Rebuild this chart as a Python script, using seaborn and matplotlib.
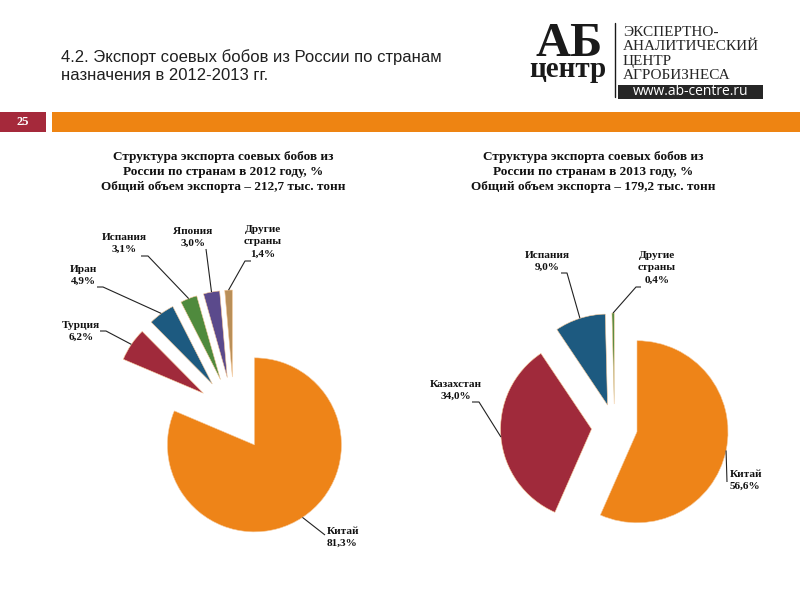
import matplotlib
matplotlib.use("Agg")
import matplotlib.pyplot as plt
from matplotlib.patches import Rectangle
import seaborn as sns
import numpy as np

# ---------------- data ----------------
countries_2012 = ["Китай", "Турция", "Иран", "Испания", "Япония", "Другие\nстраны"]
shares_2012 = [81.3, 6.2, 4.9, 3.1, 3.0, 1.4]
countries_2013 = ["Китай", "Казахстан", "Испания", "Другие\nстраны"]
shares_2013 = [56.6, 34.0, 9.0, 0.4]
title_2012 = ("Структура экспорта соевых бобов из\nРоссии по странам в 2012 году, %\n"
              "Общий объем экспорта – 212,7 тыс. тонн")
title_2013 = ("Структура экспорта соевых бобов из\nРоссии по странам в 2013 году, %\n"
              "Общий объем экспорта – 179,2 тыс. тонн")
slide_title = ["4.2. Экспорт соевых бобов из России по странам", "назначения в 2012-2013 гг."]
slide_number = "25"
logo_lines = ["ЭКСПЕРТНО-", "АНАЛИТИЧЕСКИЙ", "ЦЕНТР", "АГРОБИЗНЕСА"]
logo_url = "www.ab-centre.ru"

# ---------------- style ----------------
sns.set_theme(style="white")
plt.rcParams["font.family"] = ["Liberation Serif", "DejaVu Serif"]

palette = sns.color_palette(["#EE8418", "#A02A3B", "#1D5A80", "#4F8A3D", "#5B4A8C", "#B98F58"])
colors_2012 = palette[:6]
colors_2013 = palette[:4]

fig = plt.figure(figsize=(8, 6), dpi=100)
ax = fig.add_axes([0, 0, 1, 1])


def Y(y):
    return 600 - y


def fmt(v):
    return f"{v:.1f}".replace(".", ",") + "%"


def draw_pie(shares, colors, center, radius, expl):
    wedges, _ = ax.pie(shares, colors=colors, startangle=90, counterclock=False,
                       radius=radius, center=(center[0], Y(center[1])),
                       explode=[expl] * len(shares),
                       wedgeprops=dict(edgecolor="#f6c99a", linewidth=0.4))
    anchors = []
    for w in wedges:
        mid = np.deg2rad((w.theta1 + w.theta2) / 2)
        cx, cy = w.center
        anchors.append((cx + w.r * np.cos(mid), cy + w.r * np.sin(mid)))
    return anchors


anch12 = draw_pie(shares_2012, colors_2012, (234, 414), 87, 37)
anch13 = draw_pie(shares_2013, colors_2013, (614.5, 427), 91, 23)

# label layout: (text x, text top y, ha, leader points near the text)
layout_2012 = [
    (327, 527, "left", [(325, 535)]),
    (81, 321, "center", [(100, 331), (106, 331)]),
    (83, 265, "center", [(97, 287), (103, 287)]),
    (124, 233, "center", [(141, 256), (148, 256)]),
    (193, 227, "center", [(206, 249)]),
    (263, 225, "center", [(251, 261), (245, 261)]),
]
layout_2013 = [
    (730, 470, "left", [(727, 482)]),
    (456, 380, "center", [(472, 402), (479, 402)]),
    (547, 251, "center", [(561, 273), (567, 273)]),
    (657, 251, "center", [(641, 287), (636, 287)]),
]


def draw_labels(names, shares, anchors, layout):
    for name, v, a, (tx, ty, ha, pts) in zip(names, shares, anchors, layout):
        ax.text(tx, Y(ty), f"{name}\n{fmt(v)}", ha=ha, va="top", fontsize=8.1,
                fontweight="bold", color="#111111", linespacing=1.45)
        xs = [p[0] for p in pts] + [a[0]]
        ys = [Y(p[1]) for p in pts] + [a[1]]
        ax.plot(xs, ys, color="#222222", lw=0.8, solid_capstyle="butt")


draw_labels(countries_2012, shares_2012, anch12, layout_2012)
draw_labels(countries_2013, shares_2013, anch13, layout_2013)

# chart titles
ax.text(223, Y(151), title_2012, ha="center", va="top", fontsize=9.5,
        fontweight="bold", color="#111111", linespacing=1.33)
ax.text(593, Y(151), title_2013, ha="center", va="top", fontsize=9.5,
        fontweight="bold", color="#111111", linespacing=1.33)

# slide header
ax.text(61, Y(62), slide_title[0], ha="left", va="baseline", fontsize=12.0,
        family=["Liberation Sans", "DejaVu Sans"], color="#1f1f1f")
ax.text(61, Y(79.5), slide_title[1], ha="left", va="baseline", fontsize=12.0,
        family=["Liberation Sans", "DejaVu Sans"], color="#1f1f1f")

# bar with slide number
ax.add_patch(Rectangle((52, Y(132)), 748, 20, color="#EE8412", lw=0))
ax.add_patch(Rectangle((0, Y(132)), 46, 20, color="#A5293B", lw=0))
ax.text(23, Y(122), slide_number, ha="center", va="center", fontsize=9,
        color="white", fontweight="bold")

# logo
ax.text(569, Y(56), "АБ", ha="center", va="baseline", fontsize=35,
        fontweight="bold", color="#1a1a1a")
ax.text(568, Y(77), "центр", ha="center", va="baseline", fontsize=21,
        fontweight="bold", color="#1a1a1a")
ax.plot([615, 615], [Y(23), Y(97)], color="#1a1a1a", lw=1)
for i, line in enumerate(logo_lines):
    ax.text(623, Y(35.5 + i * 14.5), line, ha="left", va="baseline", fontsize=11,
            color="#262626")
ax.add_patch(Rectangle((618, Y(98.5)), 145, 14, color="#262626", lw=0))
ax.text(690.5, Y(91.5), logo_url, ha="center", va="center", fontsize=10,
        family=["Open Sans", "DejaVu Sans"], color="white")

ax.set_xlim(0, 800)
ax.set_ylim(0, 600)
ax.set_aspect("auto")
ax.axis("off")

fig.savefig("out.png", dpi=100, facecolor="white")
